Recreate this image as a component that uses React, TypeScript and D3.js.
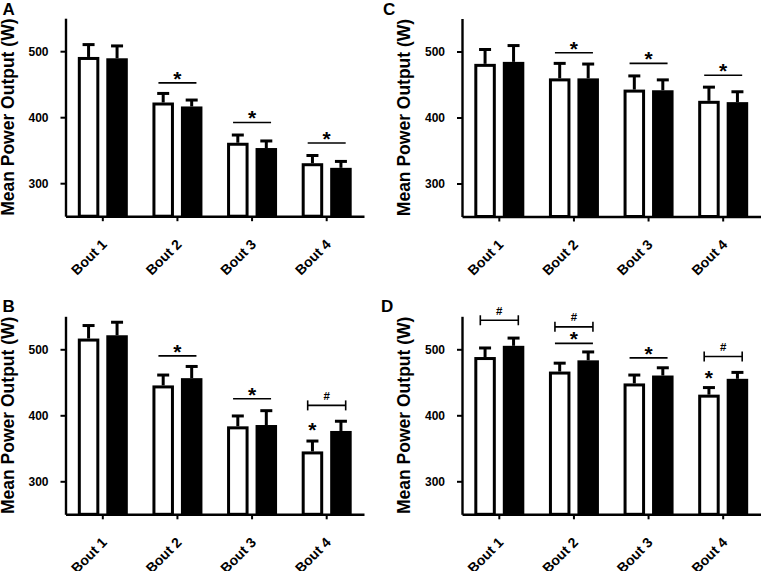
import { useEffect, useRef } from "react";
import * as d3 from "d3";

const bouts = ["Bout 1", "Bout 2", "Bout 3", "Bout 4"];
const yTicks = [300, 400, 500];

// A
const aWhite = [489, 420, 359, 328];
const aWhiteErr = [21, 16, 14, 14];
const aBlack = [487, 414, 351, 321];
const aBlackErr = [21, 12, 13, 12];

// B
const bWhite = [514, 443, 381, 343];
const bWhiteErr = [22, 18, 18, 18];
const bBlack = [519, 454, 383, 374];
const bBlackErr = [22, 20, 24, 17];

// C
const cWhite = [479, 457, 440, 423];
const cWhiteErr = [24, 25, 23, 23];
const cBlack = [482, 457, 439, 421];
const cBlackErr = [27, 24, 18, 18];

// D
const dWhite = [486, 464, 446, 429];
const dWhiteErr = [16, 15, 15, 13];
const dBlack = [503, 481, 458, 453];
const dBlackErr = [14, 15, 14, 12];

type Mark = { bout: string; y: number; kind: "line" | "bracket" | "bar"; label: string };

const aMarks: Mark[] = [
  { bout: "Bout 2", y: 452, kind: "line", label: "*" },
  { bout: "Bout 3", y: 392, kind: "line", label: "*" },
  { bout: "Bout 4", y: 361, kind: "line", label: "*" },
];
const bMarks: Mark[] = [
  { bout: "Bout 2", y: 490, kind: "line", label: "*" },
  { bout: "Bout 3", y: 425, kind: "line", label: "*" },
  { bout: "Bout 4", y: 415, kind: "bracket", label: "#" },
  { bout: "Bout 4", y: 386, kind: "bar", label: "*" },
];
const cMarks: Mark[] = [
  { bout: "Bout 2", y: 498, kind: "line", label: "*" },
  { bout: "Bout 3", y: 482, kind: "line", label: "*" },
  { bout: "Bout 4", y: 464, kind: "line", label: "*" },
];
const dMarks: Mark[] = [
  { bout: "Bout 1", y: 544, kind: "bracket", label: "#" },
  { bout: "Bout 2", y: 534, kind: "bracket", label: "#" },
  { bout: "Bout 2", y: 509, kind: "line", label: "*" },
  { bout: "Bout 3", y: 487, kind: "line", label: "*" },
  { bout: "Bout 4", y: 489, kind: "bracket", label: "#" },
  { bout: "Bout 4", y: 463.5, kind: "bar", label: "*" },
];

const FONT = "'Liberation Sans', Arial, sans-serif";

const panels = [
  { letter: "A", lx: 2.5, ly: 15, x: 65.5, y: 18.2, white: aWhite, whiteErr: aWhiteErr, black: aBlack, blackErr: aBlackErr, marks: aMarks },
  { letter: "B", lx: 2.5, ly: 312, x: 65.5, y: 316.3, white: bWhite, whiteErr: bWhiteErr, black: bBlack, blackErr: bBlackErr, marks: bMarks },
  { letter: "C", lx: 383, ly: 15, x: 462, y: 18.5, white: cWhite, whiteErr: cWhiteErr, black: cBlack, blackErr: cBlackErr, marks: cMarks },
  { letter: "D", lx: 381, ly: 312, x: 462, y: 316.3, white: dWhite, whiteErr: dWhiteErr, black: dBlack, blackErr: dBlackErr, marks: dMarks },
];

export default function App() {
  const svgRef = useRef<SVGSVGElement | null>(null);

  useEffect(() => {
    document.body.style.margin = "0";
    if (!svgRef.current) return;
    const svg = d3.select(svgRef.current);
    svg.selectAll("*").remove();

    const W = 298.5;
    const H = 198;

    panels.forEach(p => {
      svg
        .append("text")
        .attr("x", p.lx)
        .attr("y", p.ly)
        .attr("font-family", FONT)
        .attr("font-weight", "bold")
        .attr("font-size", 17)
        .text(p.letter);

      const g = svg.append("g").attr("transform", `translate(${p.x},${p.y})`);
      const x = d3.scaleBand().domain(bouts).range([0, W]);
      const sub = d3.scaleBand().domain(["w", "b"]).range([-25, 25]).paddingInner(0.245);
      const y = d3.scaleLinear().domain([250, 550]).range([H, 0]);
      const cx = (b: string) => (x(b) ?? 0) + x.bandwidth() / 2;
      const bw = sub.bandwidth();

      // white bars
      g.selectAll(".wbar")
        .data(bouts)
        .enter()
        .append("rect")
        .attr("x", (_d, i) => cx(bouts[i]) + (sub("w") ?? 0) + 1.5)
        .attr("y", (_d, i) => y(p.white[i]))
        .attr("width", bw - 3)
        .attr("height", (_d, i) => y(250) - y(p.white[i]))
        .attr("fill", "#fff")
        .attr("stroke", "#000")
        .attr("stroke-width", 3);

      // black bars
      g.selectAll(".bbar")
        .data(bouts)
        .enter()
        .append("rect")
        .attr("x", (_d, i) => cx(bouts[i]) + (sub("b") ?? 0))
        .attr("y", (_d, i) => y(p.black[i]) - 1.5)
        .attr("width", bw)
        .attr("height", (_d, i) => y(250) - y(p.black[i]) + 1.5)
        .attr("fill", "#000");

      // error bars (upper only)
      const series = [
        { key: "w", vals: p.white, errs: p.whiteErr },
        { key: "b", vals: p.black, errs: p.blackErr },
      ];
      series.forEach(s => {
        bouts.forEach((b, i) => {
          const mx = cx(b) + (sub(s.key) ?? 0) + bw / 2;
          const top = y(s.vals[i] + s.errs[i]);
          g.append("line")
            .attr("x1", mx).attr("x2", mx)
            .attr("y1", y(s.vals[i]) - 1.5).attr("y2", top)
            .attr("stroke", "#000").attr("stroke-width", 3);
          g.append("line")
            .attr("x1", mx - 6).attr("x2", mx + 6)
            .attr("y1", top).attr("y2", top)
            .attr("stroke", "#000").attr("stroke-width", 3);
        });
      });

      // axes
      const yAxis = g.append("g").call(
        d3.axisLeft(y).tickValues(yTicks).tickSize(5).tickSizeOuter(0).tickPadding(12)
      );
      const xAxis = g
        .append("g")
        .attr("transform", `translate(0,${H})`)
        .call(d3.axisBottom(x).tickSize(5).tickSizeOuter(0));
      [yAxis, xAxis].forEach(a => {
        a.select(".domain").attr("stroke", "#000").attr("stroke-width", 2.4);
        a.selectAll(".tick line").attr("stroke", "#000").attr("stroke-width", 2);
        a.selectAll("text")
          .attr("font-family", FONT)
          .attr("font-weight", "bold")
          .attr("fill", "#000");
      });
      yAxis.selectAll("text").attr("font-size", 12);
      xAxis
        .selectAll("text")
        .attr("font-size", 14)
        .attr("text-anchor", "end")
        .attr("x", 0)
        .attr("y", 0)
        .attr("dy", 0)
        .attr("transform", "translate(5,29) rotate(-45)");

      g.append("text")
        .attr("transform", `translate(-52,${H / 2}) rotate(-90)`)
        .attr("text-anchor", "middle")
        .attr("font-family", FONT)
        .attr("font-weight", "bold")
        .attr("font-size", 17.5)
        .text("Mean Power Output (W)");

      // significance marks
      p.marks.forEach(m => {
        const c = cx(m.bout);
        const my = y(m.y);
        if (m.kind === "bar") {
          const wx = c + (sub("w") ?? 0) + bw / 2;
          g.append("text")
            .attr("x", wx)
            .attr("y", my + 12)
            .attr("text-anchor", "middle")
            .attr("font-family", FONT)
            .attr("font-weight", "bold")
            .attr("font-size", 21)
            .text(m.label);
          return;
        }
        g.append("line")
          .attr("x1", c - 19).attr("x2", c + 19)
          .attr("y1", my).attr("y2", my)
          .attr("stroke", "#000").attr("stroke-width", 1.6);
        if (m.kind === "bracket") {
          [c - 19, c + 19].forEach(ex => {
            g.append("line")
              .attr("x1", ex).attr("x2", ex)
              .attr("y1", my - 5).attr("y2", my + 5)
              .attr("stroke", "#000").attr("stroke-width", 1.6);
          });
          g.append("text")
            .attr("x", c)
            .attr("y", my - 5.5)
            .attr("text-anchor", "middle")
            .attr("font-family", FONT)
            .attr("font-weight", "bold")
            .attr("font-size", 11.5)
            .text(m.label);
        } else {
          g.append("text")
            .attr("x", c)
            .attr("y", my + 3)
            .attr("text-anchor", "middle")
            .attr("font-family", FONT)
            .attr("font-weight", "bold")
            .attr("font-size", 21)
            .text(m.label);
        }
      });
    });
  }, []);

  return <svg ref={svgRef} width={761} height={571} style={{ display: "block", background: "#fff" }} />;
}
